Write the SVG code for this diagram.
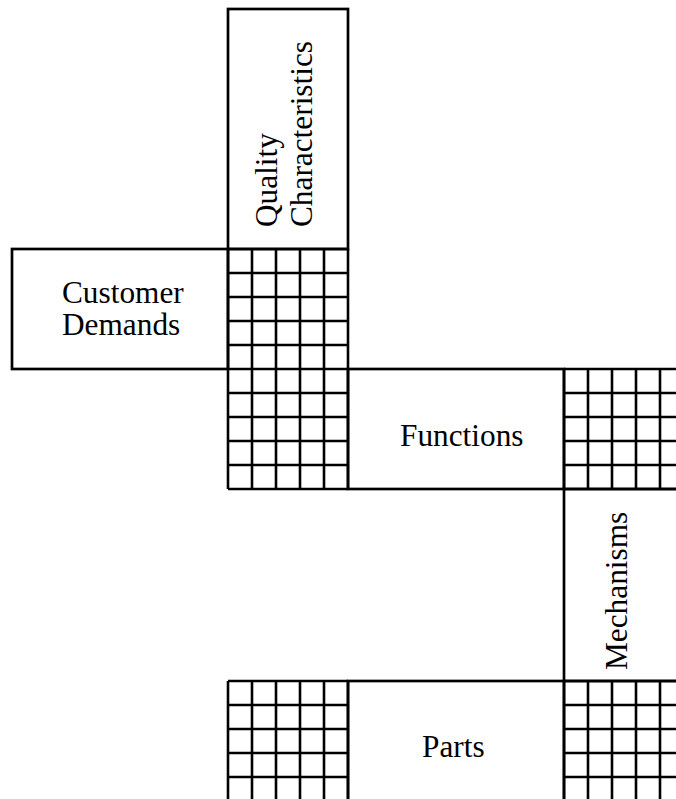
<svg xmlns="http://www.w3.org/2000/svg" width="676" height="799" viewBox="0 0 676 799">
<style>
.box{fill:#fff;stroke:#000;stroke-width:2.7}
.grid{fill:none;stroke:#000;stroke-width:2.6}
.lbl{font-family:"Liberation Serif","Times New Roman",serif;font-size:31.3px;fill:#000}
</style>
<rect width="676" height="799" fill="#fff"/>
<g id="quality-characteristics">
<rect class="box" x="228" y="9" width="120" height="240"/>
<text class="lbl" transform="translate(277,227) rotate(-90)">Quality</text>
<text class="lbl" transform="translate(311.5,227) rotate(-90)">Characteristics</text>
</g>
<g id="customer-demands">
<rect class="box" x="12" y="249" width="216" height="120"/>
<text class="lbl" x="62" y="302.7">Customer</text>
<text class="lbl" x="62" y="335.3">Demands</text>
</g>
<g id="functions">
<rect class="box" x="348" y="369" width="216" height="120"/>
<text class="lbl" x="400" y="445.7">Functions</text>
</g>
<g id="mechanisms">
<rect class="box" x="564" y="489" width="120" height="192"/>
<text class="lbl" transform="translate(627.3,670) rotate(-90)">Mechanisms</text>
</g>
<g id="parts">
<rect class="box" x="348" y="681" width="216" height="120"/>
<text class="lbl" x="422" y="757.3">Parts</text>
</g>
<g id="matrix-demands-quality">
<path class="grid" d="M228 249V489M252 249V489M276 249V489M300 249V489M324 249V489M348 249V489M228 249H348M228 273H348M228 297H348M228 321H348M228 345H348M228 369H348M228 393H348M228 417H348M228 441H348M228 465H348M228 489H348"/>
</g>
<g id="matrix-functions-mechanisms">
<path class="grid" d="M564 369V489M588 369V489M612 369V489M636 369V489M660 369V489M684 369V489M564 369H684M564 393H684M564 417H684M564 441H684M564 465H684M564 489H684"/>
</g>
<g id="matrix-parts-quality">
<path class="grid" d="M228 681V801M252 681V801M276 681V801M300 681V801M324 681V801M348 681V801M228 681H348M228 705H348M228 729H348M228 753H348M228 777H348M228 801H348"/>
</g>
<g id="matrix-parts-mechanisms">
<path class="grid" d="M564 681V801M588 681V801M612 681V801M636 681V801M660 681V801M684 681V801M564 681H684M564 705H684M564 729H684M564 753H684M564 777H684M564 801H684"/>
</g>
<g id="connectors"/>
</svg>
